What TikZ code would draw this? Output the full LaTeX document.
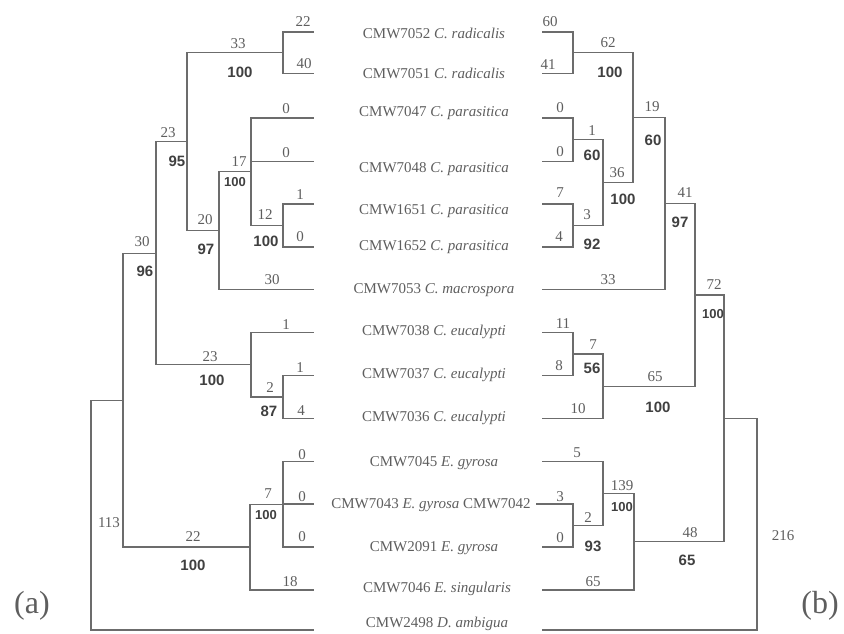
\documentclass[tikz,border=0pt]{standalone}
\usepackage{fontspec}
\setmainfont{Liberation Serif}
\newfontfamily\boldsans{Liberation Sans}
\definecolor{ln}{HTML}{6C6C6C}
\definecolor{tx}{HTML}{5E5E5E}
\definecolor{bx}{HTML}{404040}
\newcounter{lblc}
\newcommand\lb[3]{\stepcounter{lblc}\node[#1] (lbl\arabic{lblc}) at (#2) {#3};}
\begin{document}
\begin{tikzpicture}[x=1pt,y=-1pt,
  br/.style={draw=ln, line width=1.4pt},
  num/.style={font=\fontsize{15}{15}\selectfont, text=tx, inner sep=0pt},
  bsup/.style={font=\boldsans\bfseries\fontsize{15}{15}\selectfont, text=bx, inner sep=0pt},
  bsupsm/.style={font=\boldsans\bfseries\fontsize{13}{13}\selectfont, text=bx, inner sep=0pt},
  taxon/.style={font=\fontsize{15}{15}\selectfont, text=tx, inner sep=0pt},
  panel/.style={font=\fontsize{32}{32}\selectfont, text=tx, inner sep=0pt}]
\useasboundingbox (0,0) rectangle (844,633);
% ---------- leaves, left tree
\coordinate (la1) at (314,32);   \coordinate (la2) at (314,73.5);
\coordinate (la3) at (314,118);  \coordinate (la4) at (314,161.5);
\coordinate (la5) at (314,204);  \coordinate (la6) at (314,247);
\coordinate (la7) at (314,289.5);\coordinate (la8) at (314,332.5);
\coordinate (la9) at (314,375.5);\coordinate (la10) at (314,418.5);
\coordinate (la11) at (314,461.5);\coordinate (la12) at (314,504);
\coordinate (la13) at (314,547);\coordinate (la14) at (314,590);
\coordinate (la15) at (314,630);
% ---------- internal nodes, left tree
\coordinate (A1) at (283,52.75);
\coordinate (A2) at (283,225.5);
\coordinate (A3) at (251,171.75);
\coordinate (A4) at (219,230.6);
\coordinate (A5) at (187,141.7);
\coordinate (A6) at (283,397);
\coordinate (A7) at (251,364.75);
\coordinate (A8) at (156,253.2);
\coordinate (A9) at (283,504.25);
\coordinate (A10) at (250,547.1);
\coordinate (A11) at (123,400.2);
\coordinate (AR) at (91,515.1);
\draw[br] (A1) |- (la1) (A1) |- (la2)
  (A2) |- (la5) (A2) |- (la6)
  (A3) |- (la3) (A3) |- (la4) (A3) |- (A2)
  (A4) |- (A3) (A4) |- (la7)
  (A5) |- (A1) (A5) |- (A4)
  (A6) |- (la9) (A6) |- (la10)
  (A7) |- (la8) (A7) |- (A6)
  (A8) |- (A5) (A8) |- (A7)
  (A9) |- (la11) (A9) |- (la12) (A9) |- (la13)
  (A10) |- (A9) (A10) |- (la14)
  (A11) |- (A8) (A11) |- (A10)
  (AR) |- (A11) (AR) |- (la15);
% ---------- leaves, right tree
\coordinate (ra1) at (542,32);   \coordinate (ra2) at (542,73.5);
\coordinate (ra3) at (542,118);  \coordinate (ra4) at (542,161.5);
\coordinate (ra5) at (542,204);  \coordinate (ra6) at (542,247);
\coordinate (ra7) at (542,289.5);\coordinate (ra8) at (542,332.5);
\coordinate (ra9) at (542,375.5);\coordinate (ra10) at (542,418.5);
\coordinate (ra11) at (542,461.5);\coordinate (ra12) at (536,504);
\coordinate (ra13) at (542,547);\coordinate (ra14) at (542,590);
\coordinate (ra15) at (542,630);
% ---------- internal nodes, right tree
\coordinate (B1) at (573,52.75);
\coordinate (B2) at (573,139.75);
\coordinate (B3) at (573,225.5);
\coordinate (B4) at (603,182.6);
\coordinate (B5) at (633,117.7);
\coordinate (B6) at (665,203.6);
\coordinate (B7) at (573,354);
\coordinate (B8) at (603,386.25);
\coordinate (B9) at (695,294.9);
\coordinate (B10) at (573,525.5);
\coordinate (B11) at (603,493.5);
\coordinate (B12) at (634,541.75);
\coordinate (B13) at (724,418.3);
\coordinate (BR) at (757,524.2);
\draw[br] (B1) |- (ra1) (B1) |- (ra2)
  (B2) |- (ra3) (B2) |- (ra4)
  (B3) |- (ra5) (B3) |- (ra6)
  (B4) |- (B2) (B4) |- (B3)
  (B5) |- (B1) (B5) |- (B4)
  (B6) |- (B5) (B6) |- (ra7)
  (B7) |- (ra8) (B7) |- (ra9)
  (B8) |- (B7) (B8) |- (ra10)
  (B9) |- (B6) (B9) |- (B8)
  (B10) |- (ra12) (B10) |- (ra13)
  (B11) |- (ra11) (B11) |- (B10)
  (B12) |- (B11) (B12) |- (ra14)
  (B13) |- (B9) (B13) |- (B12)
  (BR) |- (B13) (BR) |- (ra15);
% ---------- taxa
\node[taxon] (t1) at (434,33) {CMW7052 \textit{C. radicalis}};
\node[taxon] (t2) at (434,73) {CMW7051 \textit{C. radicalis}};
\node[taxon] (t3) at (434,113) {CMW7047 \textit{C. parasitica}};
\node[taxon] (t4) at (434,169) {CMW7048 \textit{C. parasitica}};
\node[taxon] (t5) at (434,211) {CMW1651 \textit{C. parasitica}};
\node[taxon] (t6) at (434,247) {CMW1652 \textit{C. parasitica}};
\node[taxon] (t7) at (434,290) {CMW7053 \textit{C. macrospora}};
\node[taxon] (t8) at (434,332) {CMW7038 \textit{C. eucalypti}};
\node[taxon] (t9) at (434,375) {CMW7037 \textit{C. eucalypti}};
\node[taxon] (t10) at (434,418) {CMW7036 \textit{C. eucalypti}};
\node[taxon] (t11) at (434,463) {CMW7045 \textit{E. gyrosa}};
\node[taxon] (t12) at (431,505) {CMW7043 \textit{E. gyrosa} CMW7042};
\node[taxon] (t13) at (434,548) {CMW2091 \textit{E. gyrosa}};
\node[taxon] (t14) at (437,589) {CMW7046 \textit{E. singularis}};
\node[taxon] (t15) at (437,623.5) {CMW2498 \textit{D. ambigua}};
% ---------- left tree labels
\lb{num}{303,22}{22} \lb{num}{304,64}{40}
\lb{num}{238,44}{33} \lb{bsup}{240,72}{100}
\lb{num}{286,109}{0} \lb{num}{286,153}{0}
\lb{num}{300,195}{1} \lb{num}{300,237}{0}
\lb{num}{265,215}{12} \lb{bsup}{266,241}{100}
\lb{num}{239,162}{17} \lb{bsupsm}{235,182}{100}
\lb{num}{205,220}{20} \lb{bsup}{206,249}{97}
\lb{num}{272,280}{30}
\lb{num}{168,133}{23} \lb{bsup}{177,161}{95}
\lb{num}{142,242}{30} \lb{bsup}{145,271}{96}
\lb{num}{286,325}{1} \lb{num}{300,368}{1} \lb{num}{301,411}{4}
\lb{num}{270,388}{2} \lb{bsup}{269,411}{87}
\lb{num}{210,357}{23} \lb{bsup}{212,380}{100}
\lb{num}{302,455}{0} \lb{num}{302,497}{0} \lb{num}{302,537}{0}
\lb{num}{290,582}{18}
\lb{num}{268,494}{7} \lb{bsupsm}{266,515}{100}
\lb{num}{193,537}{22} \lb{bsup}{193,565}{100}
\lb{num}{109,523}{113}
% ---------- right tree labels
\lb{num}{550,22}{60} \lb{num}{548,65}{41}
\lb{num}{608,43}{62} \lb{bsup}{610,72}{100}
\lb{num}{560,108}{0} \lb{num}{560,152}{0}
\lb{num}{592,131}{1} \lb{bsup}{592,155}{60}
\lb{num}{560,193}{7} \lb{num}{559,237}{4}
\lb{num}{587,215}{3} \lb{bsup}{592,244}{92}
\lb{num}{617,173}{36} \lb{bsup}{623,199}{100}
\lb{num}{652,107}{19} \lb{bsup}{653,140}{60}
\lb{num}{608,280}{33}
\lb{num}{685,193}{41} \lb{bsup}{680,222}{97}
\lb{num}{563,324}{11} \lb{num}{559,366}{8}
\lb{num}{593,345}{7} \lb{bsup}{592,368}{56}
\lb{num}{578,409}{10}
\lb{num}{655,377}{65} \lb{bsup}{658,407}{100}
\lb{num}{714,285}{72} \lb{bsupsm}{713,314}{100}
\lb{num}{577,453}{5} \lb{num}{560,497}{3} \lb{num}{560,538}{0}
\lb{num}{588,518}{2} \lb{bsup}{593,546}{93}
\lb{num}{622,486}{139} \lb{bsupsm}{622,507}{100}
\lb{num}{593,582}{65}
\lb{num}{690,533}{48} \lb{bsup}{687,560}{65}
\lb{num}{783,536}{216}
% ---------- panel letters
\node[panel] (pa) at (32,606) {(a)};
\node[panel] (pb) at (820,606) {(b)};
\end{tikzpicture}
\end{document}
